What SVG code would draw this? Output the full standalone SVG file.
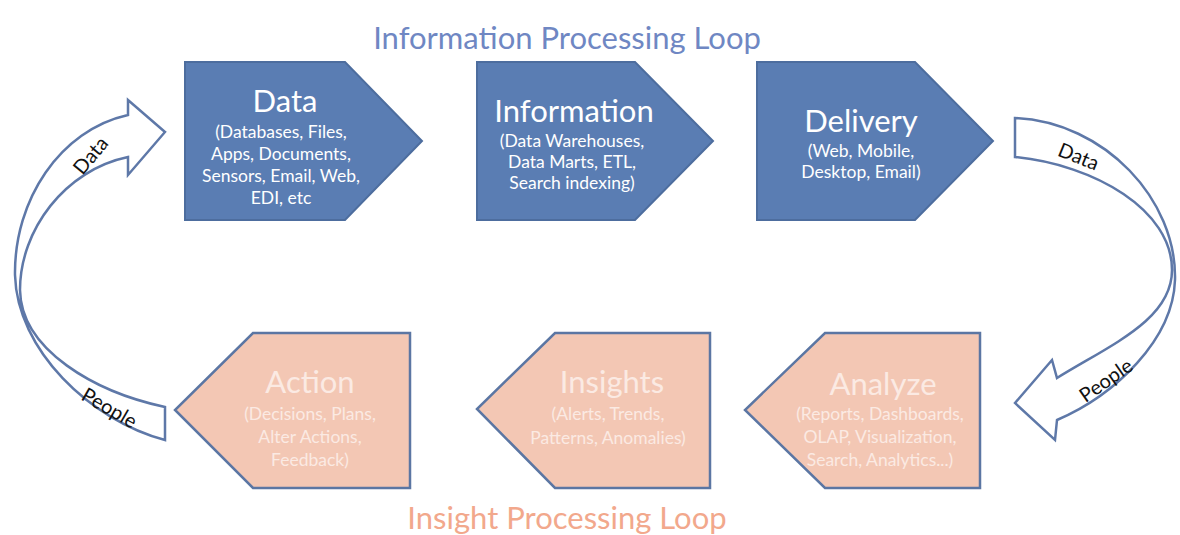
<svg xmlns="http://www.w3.org/2000/svg" width="1180" height="535" viewBox="0 0 1180 535">
<style>
.blue{fill:#5a7db3;stroke:#4d6d9e;stroke-width:2}
.salmon{fill:#f3c7b4;stroke:#5b76a3;stroke-width:2.5}
.ttl{font-family:Lato,"Liberation Sans",sans-serif;font-size:31px;fill:#ffffff;text-anchor:middle}
.sub{font-family:Lato,"Liberation Sans",sans-serif;font-size:17.5px;fill:#ffffff;text-anchor:middle}
.ttl2{font-family:Lato,"Liberation Sans",sans-serif;font-size:31px;fill:#fbeae3;text-anchor:middle}
.sub2{font-family:Lato,"Liberation Sans",sans-serif;font-size:17.5px;fill:#fbeae3;text-anchor:middle}
.arr{fill:#ffffff;stroke:#5e78a8;stroke-width:2.5;stroke-linejoin:miter}
.lbl{font-family:Lato,"Liberation Sans",sans-serif;font-size:20px;fill:#111111;text-anchor:middle}
.head{font-family:Lato,"Liberation Sans",sans-serif;font-size:31px;text-anchor:middle}
</style>
<rect width="1180" height="535" fill="#ffffff"/>
<text class="head" x="567" y="49" fill="#6f87c3">Information Processing Loop</text>
<text class="head" x="567" y="529" fill="#f2a88c">Insight Processing Loop</text>

<g id="data">
<polygon class="blue" points="185,62 345,62 422,141 345,220 185,220"/>
<text class="ttl" x="285" y="112">Data</text>
<text class="sub" x="281" y="138">(Databases,  Files,</text>
<text class="sub" x="281" y="160">Apps, Documents,</text>
<text class="sub" x="281" y="182">Sensors, Email, Web,</text>
<text class="sub" x="281" y="204">EDI, etc</text>
</g>
<g id="information">
<polygon class="blue" points="477,62 635,62 713,141 635,220 477,220"/>
<text class="ttl" x="574" y="122">Information</text>
<text class="sub" x="572" y="147">(Data Warehouses,</text>
<text class="sub" x="572" y="168">Data Marts, ETL,</text>
<text class="sub" x="572" y="189">Search indexing)</text>
</g>
<g id="delivery">
<polygon class="blue" points="757,62 915,62 993,141 915,220 757,220"/>
<text class="ttl" x="861" y="132">Delivery</text>
<text class="sub" x="861" y="157">(Web, Mobile,</text>
<text class="sub" x="861" y="178">Desktop, Email)</text>
</g>
<g id="analyze">
<polygon class="salmon" points="825,333 980,333 980,488 825,488 745,410"/>
<text class="ttl2" x="883" y="395">Analyze</text>
<text class="sub2" x="880" y="420">(Reports, Dashboards,</text>
<text class="sub2" x="880" y="443">OLAP, Visualization,</text>
<text class="sub2" x="880" y="466">Search, Analytics...)</text>
</g>
<g id="insights">
<polygon class="salmon" points="555,333 710,333 710,488 555,488 477,409"/>
<text class="ttl2" x="612" y="393">Insights</text>
<text class="sub2" x="608" y="420">(Alerts, Trends,</text>
<text class="sub2" x="608" y="444">Patterns, Anomalies)</text>
</g>
<g id="action">
<polygon class="salmon" points="253,333 410,333 410,488 253,488 175,410"/>
<text class="ttl2" x="310" y="393">Action</text>
<text class="sub2" x="310" y="420">(Decisions, Plans,</text>
<text class="sub2" x="310" y="443">Alter Actions,</text>
<text class="sub2" x="310" y="466">Feedback)</text>
</g>

<g id="connectors">
<path class="arr" d="M165,132 L128,100 L128,115 C60,130 14,200 15,275 C17,350 90,420 165,440 L165,407 C95,392 21,350 20,290 C20,230 65,170 128,157 L128,175 Z"/>
<text class="lbl" transform="translate(96,160) rotate(-50)">Data</text>
<text class="lbl" transform="translate(106,414) rotate(30)">People</text>
<path class="arr" d="M1015,403 L1052,360 L1057,378 C1110,345 1172,320 1172,270 C1172,210 1095,165 1015,157 L1015,118 C1105,122 1177,200 1175,280 C1173,340 1115,395 1057,420 L1055,440 Z"/>
<text class="lbl" transform="translate(1076,163) rotate(22)">Data</text>
<text class="lbl" transform="translate(1110,386) rotate(-35)">People</text>
</g>
</svg>
